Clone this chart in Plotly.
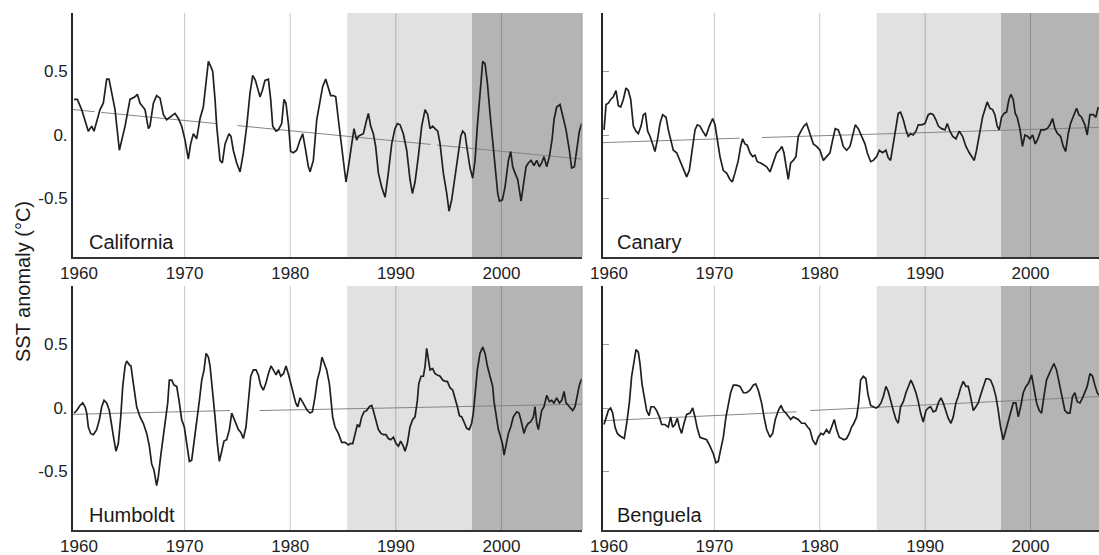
import plotly.graph_objects as go

# ---------------- data ----------------
cal_year = [1959.53, 1959.84, 1960.25, 1960.88, 1961.20, 1961.42, 1961.99, 1962.30, 1962.62, 1962.84,
            1963.41, 1963.82, 1964.36, 1964.83, 1965.30, 1965.52, 1965.78, 1966.25, 1966.57, 1966.72,
            1967.04, 1967.35, 1967.67, 1967.99, 1968.30, 1968.62, 1969.09, 1969.41, 1969.72, 1970.04,
            1970.35, 1970.57, 1970.83, 1971.14, 1971.46, 1971.77, 1972.00, 1972.25, 1972.47, 1972.66,
            1972.88, 1973.04, 1973.35, 1973.57, 1973.83, 1974.20, 1974.39, 1974.61, 1974.93, 1975.25,
            1975.56, 1975.88, 1976.19, 1976.45, 1976.70, 1976.89, 1977.14, 1977.36, 1977.61, 1977.93,
            1978.15, 1978.34, 1978.66, 1978.88, 1979.19, 1979.41, 1979.60, 1979.85, 1980.04, 1980.30,
            1980.61, 1980.93, 1981.18, 1981.40, 1981.72, 1981.88, 1982.19, 1982.51, 1982.82, 1983.07,
            1983.36, 1983.61, 1983.83, 1984.08, 1984.31, 1984.56, 1984.78, 1985.03, 1985.28, 1985.51,
            1985.82, 1986.04, 1986.29, 1986.45, 1986.67, 1986.93, 1987.18, 1987.40, 1987.62, 1987.87,
            1988.09, 1988.35, 1988.66, 1988.98, 1989.29, 1989.61, 1989.92, 1990.15, 1990.40, 1990.71,
            1991.03, 1991.34, 1991.57, 1991.82, 1992.13, 1992.45, 1992.77, 1993.02, 1993.24, 1993.49,
            1993.71, 1993.97, 1994.19, 1994.50, 1994.82, 1995.04, 1995.29, 1995.61, 1995.92, 1996.15,
            1996.33, 1996.55, 1996.77, 1997.03, 1997.28, 1997.50, 1997.72, 1997.97, 1998.23, 1998.45,
            1998.67, 1998.92, 1999.17, 1999.39, 1999.65, 1999.81, 2000.09, 2000.34, 2000.66, 2000.88,
            2001.07, 2001.29, 2001.54, 2001.86, 2002.08, 2002.33, 2002.55, 2002.80, 2003.09, 2003.34,
            2003.59, 2003.81, 2004.03, 2004.29, 2004.54, 2004.79, 2004.98, 2005.23, 2005.55, 2005.80,
            2006.12, 2006.43, 2006.65, 2006.91, 2007.13, 2007.38, 2007.60]
cal_sst = [0.28, 0.28, 0.20, 0.03, 0.07, 0.03, 0.20, 0.25, 0.44, 0.44,
           0.20, -0.12, 0.07, 0.28, 0.30, 0.32, 0.25, 0.20, 0.05, 0.07,
           0.25, 0.31, 0.29, 0.16, 0.12, 0.14, 0.17, 0.13, 0.07, -0.04,
           -0.19, -0.07, 0.01, -0.03, 0.13, 0.22, 0.41, 0.58, 0.54, 0.50,
           0.28, 0.07, -0.20, -0.22, -0.07, 0.01, -0.01, -0.12, -0.22, -0.29,
           -0.14, 0.07, 0.33, 0.47, 0.43, 0.38, 0.30, 0.35, 0.43, 0.44,
           0.28, 0.07, 0.03, 0.04, 0.09, 0.28, 0.25, 0.07, -0.13, -0.14,
           -0.12, -0.04, 0.01, -0.09, -0.25, -0.29, -0.20, 0.12, 0.25, 0.38,
           0.44, 0.38, 0.31, 0.31, 0.30, 0.12, -0.04, -0.20, -0.37, -0.25,
           -0.09, 0.05, -0.04, -0.01, 0.00, 0.01, 0.10, 0.17, 0.07, 0.01,
           -0.09, -0.30, -0.41, -0.49, -0.30, -0.07, 0.05, 0.09, 0.08, 0.01,
           -0.12, -0.35, -0.46, -0.37, -0.17, 0.07, 0.20, 0.16, 0.05, 0.07,
           0.05, 0.03, -0.07, -0.30, -0.46, -0.60, -0.51, -0.33, -0.12, -0.01,
           0.03, 0.01, -0.12, -0.26, -0.34, -0.20, 0.07, 0.30, 0.58, 0.56,
           0.41, 0.17, -0.04, -0.20, -0.46, -0.52, -0.51, -0.41, -0.20, -0.13,
           -0.25, -0.30, -0.35, -0.52, -0.41, -0.25, -0.22, -0.20, -0.24, -0.20,
           -0.25, -0.22, -0.17, -0.25, -0.17, -0.04, 0.12, 0.22, 0.24, 0.16,
           0.04, -0.12, -0.26, -0.25, -0.12, 0.03, 0.09]

can_year = [1959.53, 1959.72, 1959.94, 1960.16, 1960.41, 1960.66, 1960.89, 1961.11, 1961.36, 1961.61,
            1961.83, 1962.06, 1962.31, 1962.56, 1962.78, 1963.04, 1963.26, 1963.45, 1963.67, 1963.89,
            1964.14, 1964.36, 1964.59, 1964.84, 1965.09, 1965.41, 1965.63, 1965.85, 1966.10, 1966.42,
            1966.74, 1967.12, 1967.37, 1967.62, 1967.84, 1968.16, 1968.38, 1968.63, 1968.89, 1969.20,
            1969.52, 1969.84, 1970.06, 1970.28, 1970.53, 1970.85, 1971.16, 1971.48, 1971.70, 1971.95,
            1972.27, 1972.49, 1972.68, 1972.90, 1973.12, 1973.38, 1973.63, 1973.85, 1974.07, 1974.39,
            1974.71, 1974.96, 1975.28, 1975.59, 1975.91, 1976.16, 1976.41, 1976.60, 1976.86, 1977.01,
            1977.24, 1977.49, 1977.74, 1977.96, 1978.28, 1978.50, 1978.75, 1979.01, 1979.39, 1979.70,
            1980.02, 1980.34, 1980.65, 1980.97, 1981.22, 1981.47, 1981.76, 1981.98, 1982.23, 1982.55,
            1982.87, 1983.12, 1983.37, 1983.66, 1983.97, 1984.29, 1984.51, 1984.83, 1985.08, 1985.40,
            1985.65, 1985.96, 1986.28, 1986.50, 1986.72, 1986.98, 1987.23, 1987.45, 1987.67, 1987.93,
            1988.18, 1988.40, 1988.62, 1988.87, 1989.13, 1989.35, 1989.66, 1989.98, 1990.30, 1990.52,
            1990.77, 1991.02, 1991.25, 1991.56, 1991.88, 1992.10, 1992.35, 1992.61, 1992.92, 1993.24,
            1993.55, 1993.87, 1994.19, 1994.50, 1994.66, 1994.88, 1995.20, 1995.45, 1995.67, 1995.89,
            1996.15, 1996.40, 1996.62, 1996.84, 1997.03, 1997.25, 1997.48, 1997.73, 1997.95, 1998.14,
            1998.36, 1998.55, 1998.74, 1998.99, 1999.24, 1999.47, 1999.72, 1999.94, 2000.20, 2000.45,
            2000.70, 2000.99, 2001.30, 2001.59, 2001.84, 2002.09, 2002.32, 2002.57, 2002.85, 2003.11,
            2003.33, 2003.58, 2003.80, 2004.05, 2004.37, 2004.59, 2004.84, 2005.16, 2005.38, 2005.64,
            2005.95, 2006.20, 2006.43]
can_sst = [0.04, 0.24, 0.25, 0.28, 0.30, 0.35, 0.23, 0.22, 0.28, 0.37,
           0.35, 0.28, 0.07, 0.03, 0.01, 0.07, 0.16, 0.17, 0.03, -0.01,
           -0.07, -0.13, -0.04, 0.09, 0.16, 0.14, 0.04, -0.04, -0.12, -0.14,
           -0.20, -0.28, -0.33, -0.28, -0.14, 0.04, 0.08, 0.07, 0.03, -0.01,
           0.07, 0.13, 0.08, -0.04, -0.17, -0.28, -0.30, -0.35, -0.37, -0.30,
           -0.20, -0.09, -0.03, -0.07, -0.08, -0.14, -0.17, -0.16, -0.21, -0.22,
           -0.24, -0.25, -0.29, -0.22, -0.14, -0.12, -0.09, -0.14, -0.28, -0.35,
           -0.22, -0.20, -0.17, -0.01, 0.04, 0.07, 0.09, 0.03, -0.07, -0.09,
           -0.12, -0.20, -0.17, -0.14, -0.04, 0.05, 0.04, -0.01, -0.09, -0.12,
           -0.09, -0.01, 0.08, 0.05, -0.01, -0.07, -0.14, -0.21, -0.20, -0.17,
           -0.12, -0.14, -0.12, -0.18, -0.20, -0.07, 0.04, 0.17, 0.18, 0.12,
           0.04, -0.01, 0.01, 0.00, 0.03, 0.08, 0.08, 0.09, 0.16, 0.17,
           0.16, 0.12, 0.07, 0.05, 0.04, 0.09, 0.03, -0.01, -0.03, 0.03,
           -0.01, -0.09, -0.14, -0.18, -0.20, -0.12, 0.04, 0.14, 0.20, 0.26,
           0.21, 0.20, 0.16, 0.07, 0.04, 0.14, 0.17, 0.18, 0.28, 0.32,
           0.28, 0.17, 0.14, 0.05, -0.09, 0.00, -0.01, -0.03, 0.00, -0.07,
           -0.03, 0.04, 0.04, 0.05, 0.08, 0.13, 0.05, 0.01, -0.01, -0.09,
           -0.13, 0.01, 0.09, 0.14, 0.21, 0.16, 0.14, 0.08, 0.00, 0.16,
           0.16, 0.14, 0.22]

hum_year = [1959.53, 1959.78, 1960.09, 1960.35, 1960.57, 1960.73, 1960.88, 1961.10, 1961.36, 1961.67,
            1961.93, 1962.15, 1962.37, 1962.62, 1962.87, 1963.09, 1963.31, 1963.50, 1963.72, 1963.95,
            1964.14, 1964.36, 1964.51, 1964.77, 1964.92, 1965.15, 1965.46, 1965.78, 1966.09, 1966.41,
            1966.66, 1966.88, 1967.10, 1967.35, 1967.51, 1967.73, 1967.99, 1968.21, 1968.40, 1968.55,
            1968.78, 1969.00, 1969.25, 1969.47, 1969.72, 1969.97, 1970.20, 1970.45, 1970.67, 1970.89,
            1971.14, 1971.40, 1971.62, 1971.84, 1972.03, 1972.25, 1972.41, 1972.66, 1972.88, 1973.10,
            1973.29, 1973.51, 1973.73, 1973.98, 1974.24, 1974.46, 1974.61, 1974.87, 1975.09, 1975.31,
            1975.56, 1975.81, 1976.04, 1976.26, 1976.51, 1976.76, 1976.98, 1977.20, 1977.45, 1977.68,
            1977.93, 1978.18, 1978.40, 1978.66, 1978.88, 1979.10, 1979.36, 1979.60, 1979.82, 1980.04,
            1980.30, 1980.52, 1980.71, 1980.93, 1981.15, 1981.40, 1981.62, 1981.88, 1982.10, 1982.35,
            1982.57, 1982.82, 1983.01, 1983.23, 1983.45, 1983.71, 1983.86, 1984.02, 1984.24, 1984.56,
            1984.87, 1985.19, 1985.51, 1985.66, 1985.92, 1986.14, 1986.36, 1986.55, 1986.77, 1986.99,
            1987.24, 1987.49, 1987.72, 1987.87, 1988.13, 1988.35, 1988.60, 1988.82, 1989.07, 1989.29,
            1989.51, 1989.77, 1990.02, 1990.24, 1990.46, 1990.71, 1990.87, 1991.09, 1991.34, 1991.60,
            1991.82, 1992.04, 1992.17, 1992.39, 1992.61, 1992.77, 1992.92, 1993.08, 1993.24, 1993.49,
            1993.71, 1993.93, 1994.19, 1994.44, 1994.66, 1994.88, 1995.13, 1995.39, 1995.61, 1995.83,
            1996.02, 1996.24, 1996.46, 1996.71, 1996.96, 1997.18, 1997.34, 1997.53, 1997.72, 1997.97,
            1998.23, 1998.45, 1998.67, 1998.92, 1999.17, 1999.30, 1999.49, 1999.71, 1999.93, 2000.12,
            2000.25, 2000.44, 2000.66, 2000.88, 2001.13, 2001.45, 2001.67, 2001.92, 2002.14, 2002.33,
            2002.55, 2002.77, 2003.03, 2003.18, 2003.34, 2003.50, 2003.66, 2003.81, 2004.03, 2004.29,
            2004.54, 2004.76, 2004.98, 2005.23, 2005.49, 2005.71, 2005.93, 2006.12, 2006.34, 2006.56,
            2006.75, 2006.97, 2007.19, 2007.38, 2007.60]
hum_sst = [-0.04, -0.02, 0.02, 0.04, 0.01, -0.04, -0.15, -0.20, -0.21, -0.17,
           -0.09, 0.01, 0.06, 0.04, -0.02, -0.12, -0.25, -0.34, -0.28, -0.07,
           0.17, 0.33, 0.37, 0.34, 0.33, 0.19, 0.01, -0.07, -0.12, -0.20,
           -0.30, -0.44, -0.49, -0.61, -0.54, -0.38, -0.23, -0.09, 0.04, 0.22,
           0.22, 0.18, 0.17, 0.06, -0.09, -0.15, -0.30, -0.42, -0.41, -0.28,
           -0.12, 0.06, 0.22, 0.30, 0.43, 0.40, 0.33, 0.14, -0.07, -0.28,
           -0.42, -0.34, -0.26, -0.25, -0.17, -0.04, -0.07, -0.12, -0.17, -0.19,
           -0.24, -0.15, 0.04, 0.25, 0.30, 0.30, 0.26, 0.18, 0.14, 0.19,
           0.27, 0.33, 0.30, 0.26, 0.30, 0.25, 0.27, 0.33, 0.27, 0.19,
           0.12, 0.04, 0.01, 0.08, 0.05, 0.01, -0.02, -0.04, -0.03, 0.09,
           0.22, 0.30, 0.40, 0.35, 0.30, 0.19, 0.06, -0.07, -0.15, -0.20,
           -0.27, -0.27, -0.29, -0.28, -0.28, -0.20, -0.13, -0.15, -0.07, -0.03,
           -0.02, 0.01, 0.02, -0.02, -0.11, -0.17, -0.20, -0.21, -0.21, -0.24,
           -0.25, -0.23, -0.28, -0.30, -0.26, -0.30, -0.34, -0.28, -0.15, -0.09,
           -0.07, 0.06, 0.19, 0.25, 0.25, 0.33, 0.47, 0.40, 0.30, 0.31,
           0.27, 0.26, 0.25, 0.22, 0.21, 0.21, 0.16, 0.14, 0.08, 0.01,
           -0.06, -0.07, -0.11, -0.16, -0.17, -0.12, -0.04, 0.12, 0.30, 0.43,
           0.48, 0.43, 0.33, 0.25, 0.17, 0.05, -0.07, -0.17, -0.23, -0.29,
           -0.37, -0.28, -0.20, -0.15, -0.07, -0.03, -0.04, -0.12, -0.20, -0.15,
           -0.12, -0.11, -0.07, 0.01, -0.12, -0.17, -0.07, -0.02, 0.01, 0.10,
           0.05, 0.06, 0.04, 0.08, 0.04, 0.06, 0.13, 0.04, 0.02, 0.00,
           -0.02, 0.01, 0.09, 0.18, 0.23]

ben_year = [1959.53, 1959.72, 1959.94, 1960.16, 1960.35, 1960.57, 1960.79, 1961.04, 1961.30, 1961.45,
            1961.68, 1961.93, 1962.15, 1962.37, 1962.56, 1962.78, 1962.94, 1963.13, 1963.35, 1963.57,
            1963.80, 1963.98, 1964.27, 1964.52, 1964.78, 1965.00, 1965.31, 1965.63, 1965.85, 1966.04,
            1966.26, 1966.48, 1966.67, 1966.89, 1967.12, 1967.37, 1967.69, 1967.94, 1968.16, 1968.38,
            1968.63, 1968.95, 1969.27, 1969.58, 1969.90, 1970.15, 1970.37, 1970.59, 1970.85, 1971.10,
            1971.32, 1971.54, 1971.80, 1972.11, 1972.43, 1972.75, 1973.06, 1973.38, 1973.69, 1973.92,
            1974.17, 1974.48, 1974.71, 1974.96, 1975.28, 1975.53, 1975.78, 1976.07, 1976.32, 1976.54,
            1976.79, 1977.01, 1977.24, 1977.49, 1977.74, 1977.96, 1978.28, 1978.60, 1978.85, 1979.07,
            1979.32, 1979.61, 1979.86, 1980.11, 1980.34, 1980.65, 1980.90, 1981.13, 1981.38, 1981.60,
            1981.85, 1982.07, 1982.30, 1982.55, 1982.80, 1983.02, 1983.24, 1983.50, 1983.69, 1983.88,
            1984.13, 1984.38, 1984.57, 1984.83, 1985.08, 1985.33, 1985.55, 1985.81, 1986.03, 1986.28,
            1986.50, 1986.75, 1986.98, 1987.23, 1987.45, 1987.67, 1987.93, 1988.18, 1988.40, 1988.65,
            1988.87, 1989.13, 1989.35, 1989.57, 1989.82, 1990.08, 1990.30, 1990.52, 1990.77, 1991.02,
            1991.25, 1991.50, 1991.72, 1991.97, 1992.19, 1992.45, 1992.67, 1992.92, 1993.14, 1993.37,
            1993.62, 1993.87, 1994.09, 1994.31, 1994.57, 1994.82, 1995.04, 1995.26, 1995.52, 1995.77,
            1995.99, 1996.21, 1996.46, 1996.72, 1996.94, 1997.16, 1997.41, 1997.67, 1997.89, 1998.14,
            1998.36, 1998.61, 1998.84, 1999.06, 1999.31, 1999.57, 1999.78, 2000.10, 2000.32, 2000.58,
            2000.83, 2001.05, 2001.27, 2001.52, 2001.78, 2002.00, 2002.22, 2002.47, 2002.72, 2002.98,
            2003.26, 2003.52, 2003.74, 2003.99, 2004.21, 2004.43, 2004.69, 2004.94, 2005.16, 2005.38,
            2005.64, 2005.89, 2006.11, 2006.33, 2006.49]
ben_sst = [-0.13, -0.07, -0.02, 0.00, -0.04, -0.15, -0.20, -0.22, -0.23, -0.24,
           -0.12, 0.04, 0.25, 0.35, 0.46, 0.44, 0.35, 0.19, 0.09, -0.02,
           -0.06, 0.01, 0.01, -0.02, -0.07, -0.13, -0.13, -0.15, -0.07, -0.15,
           -0.13, -0.08, -0.15, -0.20, -0.12, -0.05, -0.04, 0.00, -0.07, -0.16,
           -0.23, -0.24, -0.25, -0.30, -0.36, -0.43, -0.42, -0.33, -0.23, -0.07,
           0.04, 0.12, 0.18, 0.18, 0.17, 0.12, 0.12, 0.14, 0.18, 0.19,
           0.14, 0.04, -0.07, -0.17, -0.23, -0.20, -0.09, -0.02, 0.02, -0.02,
           -0.04, -0.07, -0.09, -0.07, -0.08, -0.09, -0.12, -0.12, -0.15, -0.17,
           -0.25, -0.29, -0.23, -0.20, -0.21, -0.17, -0.20, -0.15, -0.09, -0.17,
           -0.23, -0.24, -0.25, -0.24, -0.20, -0.15, -0.12, -0.07, 0.04, 0.22,
           0.25, 0.23, 0.11, 0.02, 0.01, 0.00, 0.01, 0.04, 0.09, 0.17,
           0.13, 0.04, -0.02, -0.09, -0.12, 0.01, 0.05, 0.12, 0.17, 0.22,
           0.18, 0.12, 0.05, -0.04, -0.11, -0.02, 0.00, 0.01, -0.03, -0.02,
           0.04, 0.08, 0.04, -0.02, -0.08, -0.12, -0.07, 0.04, 0.09, 0.16,
           0.21, 0.17, 0.17, 0.09, -0.02, 0.01, 0.04, 0.10, 0.17, 0.23,
           0.23, 0.22, 0.17, 0.09, -0.02, -0.15, -0.25, -0.17, -0.12, -0.04,
           0.04, 0.04, -0.07, 0.01, 0.12, 0.17, 0.19, 0.26, 0.17, 0.04,
           -0.02, -0.04, 0.09, 0.22, 0.27, 0.31, 0.35, 0.30, 0.19, 0.09,
           -0.02, -0.04, -0.04, 0.09, 0.12, 0.05, 0.04, 0.08, 0.12, 0.17,
           0.27, 0.25, 0.18, 0.12, 0.10]

# linear trend lines (broken segments, None = gap)
cal_trend_year = [1959.43, 1961.5, None, 1962.1, 1973.0, None, 1975.0, 1993.3, None, 1993.9, 2007.63]
cal_trend_sst = [0.20, 0.183, None, 0.178, 0.09, None, 0.074, -0.074, None, -0.079, -0.19]
can_trend_year = [1959.43, 1972.4, None, 1974.5, 2006.5]
can_trend_sst = [-0.06, -0.025, None, -0.02, 0.06]
hum_trend_year = [1959.43, 1974.3, None, 1977.1, 2007.63]
hum_trend_sst = [-0.05, -0.02, None, -0.02, 0.03]
ben_trend_year = [1959.43, 1977.8, None, 1979.1, 2006.5]
ben_trend_sst = [-0.10, -0.03, None, -0.02, 0.09]

region_names = ["California", "Canary", "Humboldt", "Benguela"]
period_light = [1985.4, 1997.2]   # lighter shaded period
period_dark_start = 1997.2        # darker shaded period start
grid_years = [1970, 1980, 1990, 2000]
x_tick_years = [1960, 1970, 1980, 1990, 2000]
y_tick_vals = [0.5, 0.0, -0.5]
y_tick_text = ["0.5", "0.", "-0.5"]
x_range_left = [1959.43, 2007.63]
x_range_right = [1959.43, 2006.5]
y_range = [-0.96, 0.96]

series = [
    (cal_year, cal_sst, cal_trend_year, cal_trend_sst),
    (can_year, can_sst, can_trend_year, can_trend_sst),
    (hum_year, hum_sst, hum_trend_year, hum_trend_sst),
    (ben_year, ben_sst, ben_trend_year, ben_trend_sst),
]

# ---------------- figure ----------------
W, H = 1099, 555
FONT = "Liberation Sans, Arial, Helvetica, sans-serif"
dom_x_left = [73 / W, 582 / W]
dom_x_right = [603 / W, 1.0]
dom_y_top = [1 - 257 / H, 1 - 13 / H]
dom_y_bot = [1 - 530 / H, 1 - 286 / H]

panel_dom = [
    (dom_x_left, dom_y_top, x_range_left, True),
    (dom_x_right, dom_y_top, x_range_right, False),
    (dom_x_left, dom_y_bot, x_range_left, True),
    (dom_x_right, dom_y_bot, x_range_right, False),
]

fig = go.Figure()
shapes = []
annotations = []
layout_axes = {}

for i, ((yrs, vals, tyrs, tvals), (dx, dy, xr, is_left), name) in enumerate(zip(series, panel_dom, region_names)):
    k = "" if i == 0 else str(i + 1)
    xa, ya = "x" + k, "y" + k
    fig.add_trace(go.Scatter(x=tyrs, y=tvals, mode="lines", xaxis=xa, yaxis=ya,
                             line=dict(color="#858585", width=1), showlegend=False,
                             connectgaps=False, hoverinfo="skip"))
    fig.add_trace(go.Scatter(x=yrs, y=vals, mode="lines", xaxis=xa, yaxis=ya,
                             line=dict(color="#202020", width=1.7), showlegend=False))

    layout_axes["xaxis" + k] = dict(
        domain=dx, range=xr, anchor=ya, showgrid=False, zeroline=False, automargin=False,
        showline=True, linecolor="#333333", linewidth=2, ticks="",
        tickmode="array", tickvals=x_tick_years, ticktext=[str(v) for v in x_tick_years],
        tickfont=dict(family=FONT, size=17, color="#222222"), fixedrange=True,
    )
    yax = dict(
        domain=dy, range=y_range, anchor=xa, showgrid=False, zeroline=False, automargin=False,
        showline=True, linecolor="#262626", linewidth=2,
        tickmode="array", tickvals=y_tick_vals, ticktext=y_tick_text,
        tickfont=dict(family=FONT, size=17, color="#222222"), fixedrange=True,
    )
    if is_left:
        yax.update(ticks="", showticklabels=True)
    else:
        yax.update(ticks="inside", ticklen=6, tickcolor="#9a9a9a", tickwidth=1, showticklabels=False)
    layout_axes["yaxis" + k] = yax

    # shaded periods
    shapes.append(dict(type="rect", xref=xa, yref=ya + " domain", x0=period_light[0], x1=period_light[1],
                       y0=0, y1=1, fillcolor="#e1e1e1", line=dict(width=0), layer="below"))
    shapes.append(dict(type="rect", xref=xa, yref=ya + " domain", x0=period_dark_start, x1=xr[1],
                       y0=0, y1=1, fillcolor="#b4b4b4", line=dict(width=0), layer="below"))
    # vertical grid lines
    for g in grid_years:
        shapes.append(dict(type="line", xref=xa, yref=ya + " domain", x0=g, x1=g, y0=0, y1=1,
                           line=dict(color="rgba(0,0,0,0.22)", width=1), layer="below"))
    if is_left:
        shapes.append(dict(type="line", xref=xa + " domain", yref=ya + " domain", x0=1, x1=1, y0=0, y1=1,
                           line=dict(color="#9c9c9c", width=1), layer="above"))

    annotations.append(dict(text=name, xref=xa + " domain", yref=ya + " domain",
                            x=0.027 if is_left else 0.024, y=0.062, xanchor="left", yanchor="middle",
                            showarrow=False, font=dict(family=FONT, size=20, color="#1a1a1a")))

annotations.append(dict(text="SST anomaly (°C)", xref="paper", yref="paper", x=23 / W, y=1 - 282 / H,
                        xanchor="center", yanchor="middle", textangle=-90, showarrow=False,
                        font=dict(family=FONT, size=20, color="#1a1a1a")))

fig.update_layout(
    width=W, height=H, margin=dict(l=0, r=0, t=0, b=0, autoexpand=False),
    paper_bgcolor="white", plot_bgcolor="white",
    shapes=shapes, annotations=annotations, showlegend=False,
    font=dict(family=FONT),
    **layout_axes,
)

# remove the browser's default page margin so the figure fills the window exactly
fig.write_html("out.html",
               config={"displayModeBar": False, "staticPlot": False},
               post_script="document.body.style.margin='0';document.body.style.overflow='hidden';")
